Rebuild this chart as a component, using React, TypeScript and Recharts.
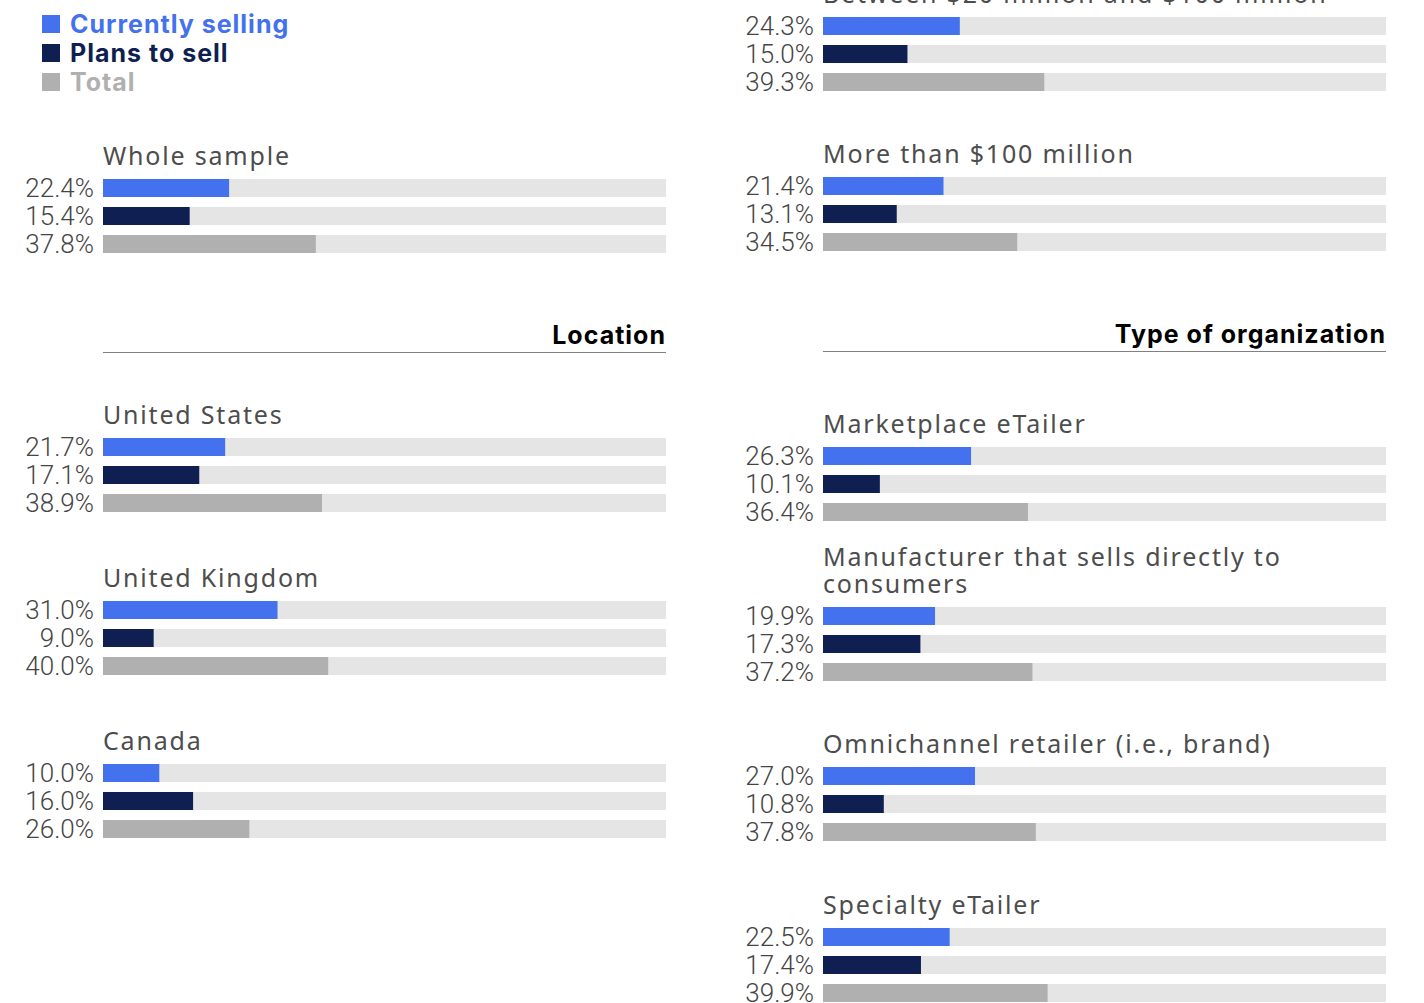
import { BarChart, Bar, XAxis, YAxis, Cell } from 'recharts';

// series + values per group (percent)
const SERIES = ['Currently selling', 'Plans to sell', 'Total'];
const SERIES_COLORS = ['#4471ee', '#0f1f52', '#b0b0b0'];

const wholeSample = [22.4, 15.4, 37.8];
const unitedStates = [21.7, 17.1, 38.9];
const unitedKingdom = [31.0, 9.0, 40.0];
const canada = [10.0, 16.0, 26.0];

const between20and100 = [24.3, 15.0, 39.3];
const moreThan100 = [21.4, 13.1, 34.5];
const marketplaceETailer = [26.3, 10.1, 36.4];
const manufacturerDirect = [19.9, 17.3, 37.2];
const omnichannelRetailer = [27.0, 10.8, 37.8];
const specialtyETailer = [22.5, 17.4, 39.9];

const LABEL_FONT = 'Roboto, sans-serif';
const TITLE_FONT = '"Noto Sans", sans-serif';
const HEAD_FONT = 'Inter, sans-serif';

const CHART_W = 666;
const CHART_H = 84;
const AXIS_W = 103;

interface GroupProps {
  title: string;
  values: number[];
  left: number;
  top: number;
}

function Group({ title, values, left, top }: GroupProps) {
  const data = SERIES.map((s, i) => ({ series: s, value: values[i] }));
  return (
    <div style={{ position: 'absolute', left, top, width: CHART_W, height: CHART_H }}>
      <div
        style={{
          position: 'absolute',
          left: AXIS_W,
          bottom: CHART_H + 5,
          width: 540,
          fontFamily: TITLE_FONT,
          fontSize: 25,
          lineHeight: '27px',
          letterSpacing: 1.8,
          color: '#4d4d4d',
        }}
      >
        {title}
      </div>
      <BarChart
        width={CHART_W}
        height={CHART_H}
        data={data}
        layout="vertical"
        margin={{ top: 0, right: 0, bottom: 0, left: 0 }}
      >
        <XAxis type="number" domain={[0, 100]} hide />
        <YAxis
          type="category"
          dataKey="series"
          width={AXIS_W}
          axisLine={false}
          tickLine={false}
          tickSize={0}
          tickMargin={9}
          interval={0}
          tickFormatter={(_v: string, i: number) => `${values[i].toFixed(1)}%`}
          tick={{ fill: '#454545', fontSize: 26, fontFamily: LABEL_FONT, fontWeight: 300 }}
        />
        <Bar
          dataKey="value"
          barSize={18}
          background={{ fill: '#e5e5e5' }}
          isAnimationActive={false}
        >
          {data.map((d, i) => (
            <Cell key={d.series} fill={SERIES_COLORS[i]} />
          ))}
        </Bar>
      </BarChart>
    </div>
  );
}

function Header({ text, left, top }: { text: string; left: number; top: number }) {
  return (
    <div
      style={{
        position: 'absolute',
        left,
        top,
        width: 563,
        borderBottom: '1.5px solid #808080',
        textAlign: 'right',
        fontFamily: HEAD_FONT,
        fontWeight: 700,
        fontSize: 25,
        letterSpacing: 1,
        lineHeight: '30px',
        paddingBottom: 2,
        color: '#000',
      }}
    >
      {text}
    </div>
  );
}

export default function App() {
  return (
    <div
      style={{
        position: 'absolute',
        left: 0,
        top: 0,
        width: 1424,
        height: 1003,
        overflow: 'hidden',
        background: '#fff',
      }}
    >
      {/* legend */}
      {SERIES.map((s, i) => (
        <div
          key={s}
          style={{
            position: 'absolute',
            left: 42,
            top: 9 + i * 29,
            height: 29,
            display: 'flex',
            alignItems: 'center',
            fontFamily: HEAD_FONT,
            fontWeight: 700,
            fontSize: 25,
            letterSpacing: 1,
            color: SERIES_COLORS[i],
          }}
        >
          <span style={{ width: 18, height: 18, background: SERIES_COLORS[i], marginRight: 10 }} />
          {s}
        </div>
      ))}

      {/* left column */}
      <Group title="Whole sample" values={wholeSample} left={0} top={174} />
      <Header text="Location" left={103} top={320} />
      <Group title="United States" values={unitedStates} left={0} top={433} />
      <Group title="United Kingdom" values={unitedKingdom} left={0} top={596} />
      <Group title="Canada" values={canada} left={0} top={759} />

      {/* right column */}
      <Group title="Between $20 million and $100 million" values={between20and100} left={720} top={12} />
      <Group title="More than $100 million" values={moreThan100} left={720} top={172} />
      <Header text="Type of organization" left={823} top={319} />
      <Group title="Marketplace eTailer" values={marketplaceETailer} left={720} top={442} />
      <Group title="Manufacturer that sells directly to consumers" values={manufacturerDirect} left={720} top={602} />
      <Group title="Omnichannel retailer (i.e., brand)" values={omnichannelRetailer} left={720} top={762} />
      <Group title="Specialty eTailer" values={specialtyETailer} left={720} top={923} />
    </div>
  );
}
